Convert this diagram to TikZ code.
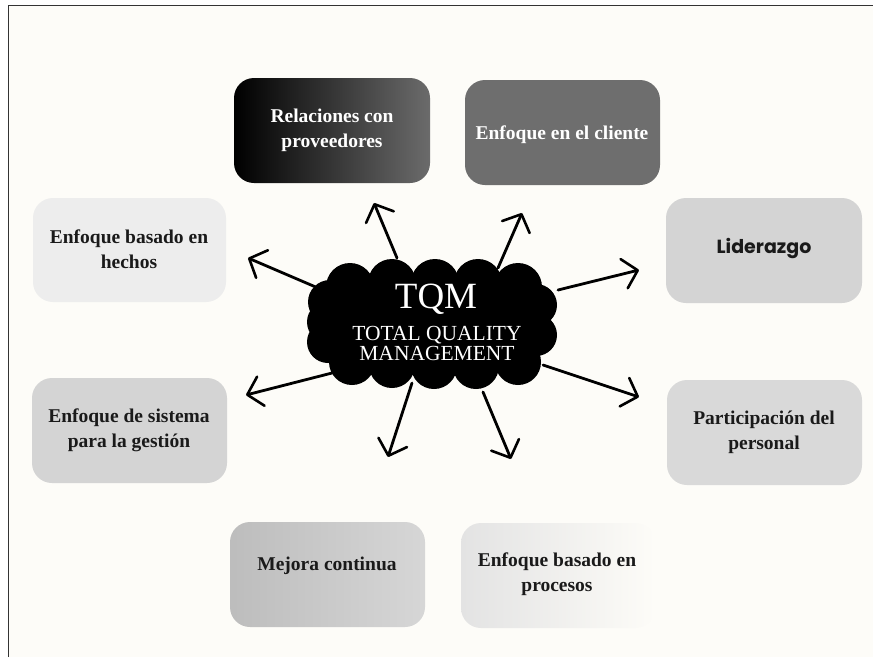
\documentclass[tikz,border=0pt]{standalone}
\usepackage{fontspec}
\setmainfont{Liberation Serif}
\newfontfamily\geosans{Poppins}
\usetikzlibrary{arrows.meta}
\definecolor{paper}{HTML}{FDFCF8}
\definecolor{framec}{HTML}{333333}
\definecolor{txtdark}{HTML}{1A1A1A}
\tikzset{
  box/.style={rounded corners=20pt, minimum width=195pt, minimum height=104pt,
    inner sep=0pt},
  boxtext/.style={font=\fontsize{19.5}{25}\selectfont\bfseries, align=center,
    text=txtdark},
  ray/.style={line width=2.8pt, line cap=round, draw=black,
    -{Straight Barb[length=14pt, width=30pt, line width=2.6pt, round]}},
  puff/.style={fill=black}
}
\begin{document}
\begin{tikzpicture}[x=1pt,y=-1pt]
\useasboundingbox (0,0) rectangle (873,657);
\fill[white] (0,0) rectangle (873,657);
\fill[paper] (8.5,5.5) rectangle (873,657);
\draw[framec, line width=1.6pt] (8.5,657) -- (8.5,5.5) -- (873,5.5);

% boxes
\path[box, left color=black, right color=black!58] (234,78) rectangle (430,183);
\node[boxtext, text=white] (prov) at (332,130) {Relaciones con\\proveedores};

\fill[box, fill=black!57] (465,80) rectangle (660,185);
\node[boxtext, text=white] (cli) at (562,135) {Enfoque en el cliente};

\fill[box, fill=black!17] (666,198) rectangle (862,303);
\node[font=\geosans\fontsize{19}{22}\selectfont\bfseries, text=txtdark] (lid) at (764,248) {Liderazgo};

\fill[box, fill=black!7] (33,198) rectangle (226,302);
\node[boxtext] (hech) at (129,249) {Enfoque basado en\\hechos};

\fill[box, fill=black!17] (32,378) rectangle (227,483);
\node[boxtext] (sist) at (129,430) {Enfoque de sistema\\para la gesti\'on};

\fill[box, fill=black!15] (667,380) rectangle (862,485);
\node[boxtext] (part) at (764,432) {Participaci\'on del\\personal};

\path[box, left color=black!26, right color=black!16] (230,522) rectangle (425,627);
\node[boxtext] (mej) at (327,566) {Mejora continua};

\path[box, left color=black!11, right color=paper] (461,523) rectangle (655,628);
\node[boxtext] (proc) at (557,574) {Enfoque basado en\\procesos};

% cloud
\begin{scope}
\fill[puff] (330,290) rectangle (540,365);
\foreach \cx/\cy/\r in {350/287/24, 392/283/24, 435/283/24, 478/283/24, 518/287/24,
  330/302/22, 328/322/21, 328/342/21, 352/362/23, 392/365/23, 434/366/23,
  476/366/23, 518/362/23, 536/305/21, 536/335/21}
  \fill[puff] (\cx,\cy) circle (\r);
\end{scope}
\node[text=white, inner sep=0pt, font=\fontsize{37}{37}\selectfont] (tqm) at (436,299) {TQM};
\node[text=white, align=center, inner sep=0pt,
  font=\fontsize{21.5}{20}\selectfont] (tqmsub) at (437,343)
  {TOTAL QUALITY\\MANAGEMENT};

% arrow coordinates
\coordinate (s1) at (397,258); \coordinate (e1) at (374,203);
\coordinate (s2) at (498,268); \coordinate (e2) at (522,213);
\coordinate (s3) at (318,288); \coordinate (e3) at (248,258);
\coordinate (s4) at (558,290); \coordinate (e4) at (639,270);
\coordinate (s5) at (332,373); \coordinate (e5) at (246,395);
\coordinate (s6) at (543,365); \coordinate (e6) at (639,397);
\coordinate (s7) at (412,383); \coordinate (e7) at (388,457);
\coordinate (s8) at (483,392); \coordinate (e8) at (511,459);
\foreach \i in {1,...,8} \draw[ray] (s\i) -- (e\i);
\end{tikzpicture}
\end{document}
